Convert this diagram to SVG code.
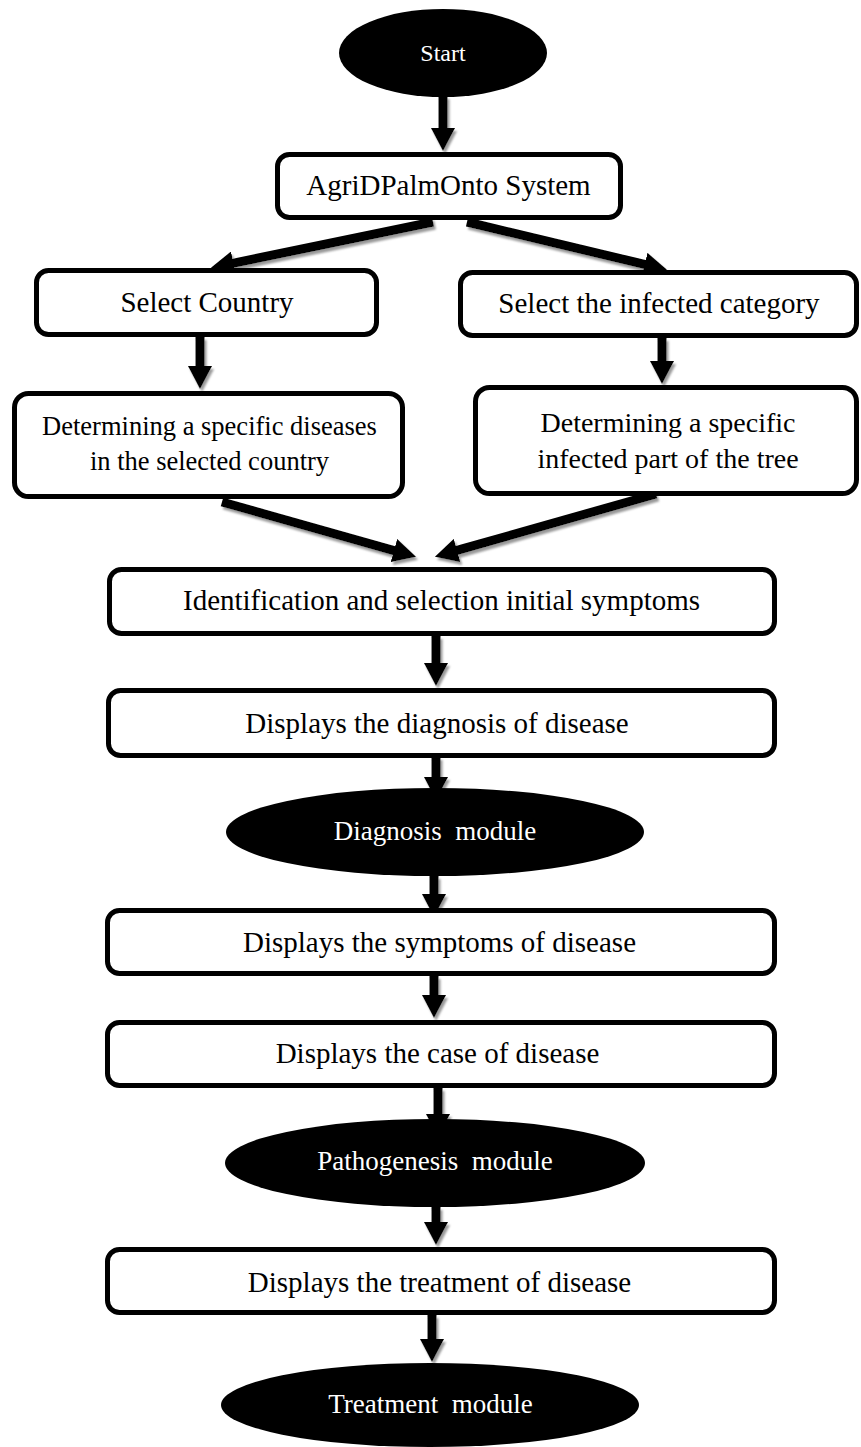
<svg xmlns="http://www.w3.org/2000/svg" width="861" height="1447" viewBox="0 0 861 1447">
<style>
.box{fill:#fff;stroke:#000;stroke-width:5}
.term{fill:#000;stroke:none}
.t{font-family:"Liberation Serif","Times New Roman",serif;font-size:29px;fill:#000;text-anchor:middle}
.tw{font-family:"Liberation Serif","Times New Roman",serif;font-size:27px;fill:#fff;text-anchor:middle}
.c{stroke:#000;stroke-width:9;fill:none;marker-end:url(#ah)}
</style>
<defs>
<marker id="ah" markerUnits="userSpaceOnUse" markerWidth="24" markerHeight="24" refX="1" refY="12" orient="auto" viewBox="0 0 24 24">
<path d="M0,0 L23,12 L0,24 Z" fill="#000"/>
</marker>
<filter id="sh" x="-20%" y="-20%" width="140%" height="140%">
<feDropShadow dx="2" dy="3" stdDeviation="1" flood-color="#999" flood-opacity="1"/>
</filter>
</defs>
<g id="connectors" filter="url(#sh)">
<line class="c" x1="443" y1="96" x2="443" y2="129"/>
<line class="c" x1="433" y1="222" x2="232.5" y2="263.4"/>
<line class="c" x1="467" y1="222" x2="645.6" y2="264.7"/>
<line class="c" x1="200" y1="337" x2="200" y2="367"/>
<line class="c" x1="662" y1="338" x2="662" y2="362"/>
<line class="c" x1="222" y1="502" x2="394.9" y2="550.8"/>
<line class="c" x1="656" y1="494" x2="456.1" y2="550.7"/>
<line class="c" x1="436" y1="636" x2="436" y2="664"/>
<line class="c" x1="436" y1="757" x2="436" y2="778"/>
<line class="c" x1="434" y1="876" x2="434" y2="895"/>
<line class="c" x1="434" y1="976" x2="434" y2="996"/>
<line class="c" x1="438" y1="1088" x2="438" y2="1115"/>
<line class="c" x1="436" y1="1207" x2="436" y2="1223"/>
<line class="c" x1="432" y1="1315" x2="432" y2="1340"/>
</g>
<g id="start">
<ellipse class="term" cx="443" cy="53" rx="104" ry="44"/>
<text class="tw" x="443" y="61" style="font-size:24px">Start</text>
</g>
<g id="system">
<rect class="box" x="277.5" y="154.5" width="343" height="63" rx="12"/>
<text class="t" x="448.5" y="195">AgriDPalmOnto System</text>
</g>
<g id="selectCountry">
<rect class="box" x="36.5" y="270.5" width="340" height="64" rx="12"/>
<text class="t" x="207" y="312">Select Country</text>
</g>
<g id="selectCategory">
<rect class="box" x="460.5" y="272.5" width="396" height="63" rx="12"/>
<text class="t" x="659" y="313">Select the infected category</text>
</g>
<g id="determineDiseases">
<rect class="box" x="14.5" y="393.5" width="388" height="103" rx="14"/>
<text class="t" x="209.5" y="435" style="font-size:26.5px">Determining a specific diseases</text>
<text class="t" x="209.5" y="470" style="font-size:26.5px">in the selected country</text>
</g>
<g id="determinePart">
<rect class="box" x="475.5" y="387.5" width="381" height="106" rx="14"/>
<text class="t" x="668" y="432" style="font-size:28px">Determining a specific</text>
<text class="t" x="668" y="468" style="font-size:28px">infected part of the tree</text>
</g>
<g id="identification">
<rect class="box" x="109.5" y="569.5" width="665" height="64" rx="12"/>
<text class="t" x="441.5" y="610">Identification and selection initial symptoms</text>
</g>
<g id="displayDiagnosis">
<rect class="box" x="108.5" y="690.5" width="666" height="65" rx="12"/>
<text class="t" x="437" y="733">Displays the diagnosis of disease</text>
</g>
<g id="diagnosisModule">
<ellipse class="term" cx="435" cy="832" rx="209" ry="44"/>
<text class="tw" x="435" y="840" xml:space="preserve">Diagnosis  module</text>
</g>
<g id="displaySymptoms">
<rect class="box" x="107.5" y="910.5" width="667" height="63" rx="12"/>
<text class="t" x="439.5" y="952">Displays the symptoms of disease</text>
</g>
<g id="displayCase">
<rect class="box" x="107.5" y="1022.5" width="667" height="63" rx="12"/>
<text class="t" x="437.5" y="1063">Displays the case of disease</text>
</g>
<g id="pathogenesisModule">
<ellipse class="term" cx="435" cy="1163" rx="210" ry="44"/>
<text class="tw" x="435" y="1170" xml:space="preserve">Pathogenesis  module</text>
</g>
<g id="displayTreatment">
<rect class="box" x="107.5" y="1249.5" width="667" height="63" rx="12"/>
<text class="t" x="439.5" y="1292">Displays the treatment of disease</text>
</g>
<g id="treatmentModule">
<ellipse class="term" cx="430" cy="1405" rx="209" ry="42"/>
<text class="tw" x="430.5" y="1413" xml:space="preserve">Treatment  module</text>
</g>
</svg>
